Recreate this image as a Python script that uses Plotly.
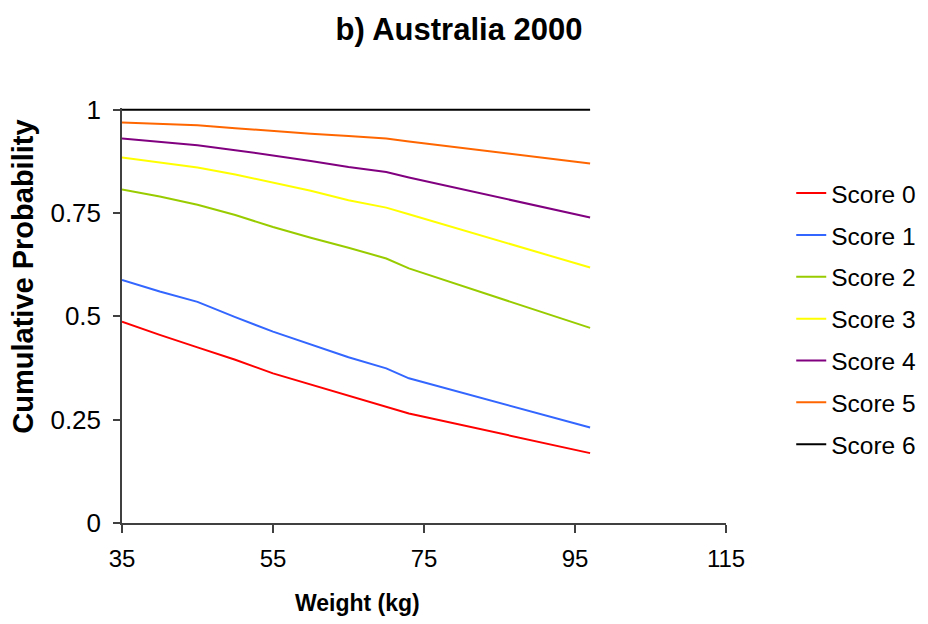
import plotly.graph_objects as go

weight = [35, 40, 45, 50, 55, 60, 65, 70, 73, 97]
score0 = [0.487, 0.455, 0.425, 0.395, 0.362, 0.335, 0.308, 0.282, 0.265, 0.169]
score1 = [0.588, 0.560, 0.535, 0.498, 0.463, 0.432, 0.401, 0.374, 0.350, 0.231]
score2 = [0.807, 0.790, 0.770, 0.745, 0.716, 0.690, 0.666, 0.640, 0.616, 0.472]
score3 = [0.884, 0.872, 0.860, 0.843, 0.823, 0.804, 0.781, 0.763, 0.747, 0.618]
score4 = [0.930, 0.922, 0.914, 0.902, 0.889, 0.876, 0.861, 0.849, 0.836, 0.739]
score5 = [0.969, 0.965, 0.962, 0.955, 0.948, 0.942, 0.936, 0.930, 0.923, 0.870]
score6 = [1.0, 1.0, 1.0, 1.0, 1.0, 1.0, 1.0, 1.0, 1.0, 1.0]

names = ["Score 0", "Score 1", "Score 2", "Score 3", "Score 4", "Score 5", "Score 6"]
series = [score0, score1, score2, score3, score4, score5, score6]
colors = ["#FF0000", "#3366FF", "#99CC00", "#FFFF00", "#800080", "#FF6600", "#000000"]

x_ticks = [35, 55, 75, 95, 115]
y_ticks = [0, 0.25, 0.5, 0.75, 1]
y_tick_labels = ["0", "0.25", "0.5", "0.75", "1"]

FONT = "Liberation Sans, Arial, sans-serif"

# the page body adds an 8px offset, so the figure is shifted 8px right/down
W, H = 920, 608

fig = go.Figure()
for name, vals, col in zip(names, series, colors):
    fig.add_trace(go.Scatter(
        x=weight, y=vals, mode="lines", name=name,
        legendgroup=name,
        line=dict(color=col, width=2),
    ))

fig.update_layout(
    width=W, height=H,
    margin=dict(l=113.5, r=202.3, t=99.6, b=92.7, autoexpand=False),
    paper_bgcolor="white", plot_bgcolor="white",
    font=dict(family=FONT, color="black"),
    title=dict(text="<b>b) Australia 2000</b>", x=451 / W, xref="container", xanchor="center",
               y=1 - 21 / H, yref="container", yanchor="middle",
               font=dict(size=31, family=FONT, color="black")),
    showlegend=True,
    legend=dict(
        x=1.108, y=0.849, xanchor="left", yanchor="top",
        font=dict(size=24.5, family=FONT, color="black"),
        tracegroupgap=7, traceorder="grouped",
        bgcolor="rgba(0,0,0,0)", borderwidth=0,
    ),
    xaxis=dict(
        range=[35, 115], tickmode="array", tickvals=x_ticks,
        showgrid=False, zeroline=False, automargin=False,
        showline=True, linecolor="#404040", linewidth=1.5,
        ticks="outside", ticklen=8, tickcolor="#404040", tickwidth=1.5,
        tickfont=dict(size=24, family=FONT, color="black"),
        ticklabelstandoff=5,
    ),
    yaxis=dict(
        range=[0, 1.004], tickmode="array", tickvals=y_ticks, ticktext=y_tick_labels,
        showgrid=False, zeroline=False, automargin=False,
        showline=True, linecolor="#404040", linewidth=1.5,
        ticks="outside", ticklen=7, tickcolor="#404040", tickwidth=1.5,
        tickfont=dict(size=26, family=FONT, color="black"),
        ticklabelstandoff=7,
    ),
    annotations=[
        dict(text="<b>Weight (kg)</b>", xref="paper", yref="paper", x=0.3906, y=-0.1918,
             xanchor="center", yanchor="middle", showarrow=False,
             font=dict(size=23, family=FONT, color="black")),
        dict(text="<b>Cumulative Probability</b>", xref="paper", yref="paper", x=-0.163, y=0.5925,
             xanchor="center", yanchor="middle", showarrow=False, textangle=-90,
             font=dict(size=29, family=FONT, color="black")),
    ],
)

fig.write_html("out.html")
